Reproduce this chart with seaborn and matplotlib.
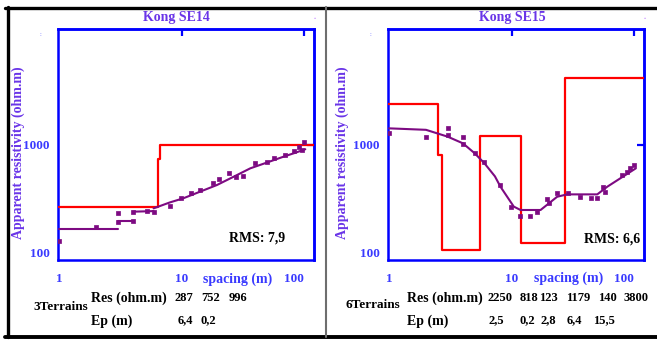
import numpy as np
import pandas as pd
import matplotlib
matplotlib.use("Agg")
import matplotlib.pyplot as plt
from matplotlib.lines import Line2D
from matplotlib.ticker import FixedLocator, NullLocator, NullFormatter
import seaborn as sns

W, H = 657, 340

# ---- Kong SE14 (left) ----
se14_res = [287, 752, 996]
se14_ep = [6.4, 0.2]
se14_rms = "7,9"
se14_obs_x = [1.0, 2.0, 3.0, 3.0, 4.0, 4.0, 5.2, 5.9, 8.05, 9.85, 11.9, 14.1, 17.9, 20.0,
              24.2, 27.8, 31.8, 39.8, 49.6, 56.1, 70, 82, 89.8, 95, 99.7]
se14_obs_y = [146, 194, 257, 212, 219, 260, 267, 262, 293, 342, 378, 404, 461, 500,
              563, 526, 534, 687, 710, 760, 810, 886, 957, 894, 1060]
se14_fit_seg = [1, 1, 2, 2, 3, 3, 4, 4, 4, 4, 4, 4, 4, 4, 4, 4, 4]
se14_fit_x = [1.0, 3.05, 3.0, 4.05, 4.0, 5.9, 5.9, 8.0, 10.3, 14, 19.4, 27, 36.3, 50, 67.6, 85, 101.9]
se14_fit_y = [184, 184, 219, 219, 262, 265, 280, 315, 342, 389, 446, 531, 622, 700, 784, 850, 910]

# ---- Kong SE15 (right) ----
se15_res = [2250, 818, 123, 1179, 140, 3800]
se15_ep = [2.5, 0.2, 2.8, 6.4, 15.5]
se15_rms = "6,6"
se15_obs_x = [1.0, 2.0, 3.0, 3.0, 4.0, 4.0, 5.0, 5.9, 8.0, 9.9, 11.8, 14.0, 16.1, 19.5, 20.0,
              23.5, 28.7, 36.4, 44, 49.9, 55.7, 58.2, 79.8, 88, 92.7, 100.3]
se15_obs_y = [1250, 1170, 1380, 1205, 1150, 1010, 838, 710, 446, 290, 242, 240, 262, 335, 310,
              378, 383, 353, 342, 342, 431, 390, 545, 582, 623, 664]
se15_fit_x = [1, 2, 3, 4, 5, 6, 7.3, 8.1, 10.4, 11.8, 17.2, 23.5, 28.3, 49.9, 60.2, 77, 103]
se15_fit_y = [1380, 1340, 1170, 1024, 838, 687, 530, 431, 290, 271, 271, 353, 370, 370, 431, 510, 622]

XLIM = (0.98, 120)
YLIM = (100, 10000)

BLUE = "#0000ff"
TXT_BLUE = "#3a3aff"
TITLE_C = "#6a35e8"
RED = "#ff0000"
PURPLE = "#7d0a82"

sns.set_style("white")
plt.rcParams["font.family"] = ["Liberation Serif", "DejaVu Serif"]
plt.rcParams["font.weight"] = "bold"

fig = plt.figure(figsize=(W / 100, H / 100), dpi=100)


def px(x, y):
    return x / W, 1 - y / H


def model_steps(res, ep):
    depths = np.cumsum(ep)
    xs = [XLIM[0]] + list(depths) + [XLIM[1]]
    ys = list(res) + [res[-1]]
    return pd.DataFrame({"x": xs, "y": ys})


def draw_panel(left_px, res, ep, obs_x, obs_y, fit_x, fit_y, fit_seg):
    ax = fig.add_axes([left_px / W, 1 - 260 / H, 256 / W, 231 / H])
    ax.set_xscale("log")
    ax.set_yscale("log")

    steps = model_steps(res, ep)
    ax.step(steps["x"], steps["y"], where="post", color=RED, lw=1.6, zorder=3)

    fit = pd.DataFrame({"x": fit_x, "y": fit_y, "seg": fit_seg})
    sns.lineplot(data=fit, x="x", y="y", units="seg", estimator=None, sort=False,
                 color=PURPLE, lw=1.5, ax=ax, zorder=4)
    obs = pd.DataFrame({"x": obs_x, "y": obs_y})
    sns.scatterplot(data=obs, x="x", y="y", marker="s", s=11, color=PURPLE,
                    edgecolor=PURPLE, linewidth=0.5, ax=ax, zorder=5)

    ax.set_xlim(*XLIM)
    ax.set_ylim(*YLIM)
    ax.set_xlabel("")
    ax.set_ylabel("")

    for s in ax.spines.values():
        s.set_color(BLUE)
        s.set_linewidth(1.8)

    ax.xaxis.set_major_locator(FixedLocator([1, 10, 100]))
    ax.set_xticklabels(["1", "10", "100"])
    ax.xaxis.set_minor_locator(FixedLocator([v * d for d in (1, 10) for v in range(2, 10)]))
    ax.xaxis.set_minor_formatter(NullFormatter())
    ax.yaxis.set_major_locator(FixedLocator([100, 1000]))
    ax.set_yticklabels(["100", "1000"])
    ax.yaxis.set_minor_locator(FixedLocator([v * d for d in (100, 1000) for v in range(2, 10)]))
    ax.yaxis.set_minor_formatter(NullFormatter())

    ax.tick_params(which="major", direction="out", length=5, width=1.6, color=BLUE,
                   labelcolor=TXT_BLUE, labelsize=9.5)
    ax.tick_params(which="minor", direction="out", length=3, width=1.4, color=BLUE)
    ax.tick_params(axis="x", which="major", pad=4)
    ax.tick_params(axis="y", which="major", pad=1)
    for lab in ax.get_xticklabels() + ax.get_yticklabels():
        lab.set_fontweight("bold")
    # the lowest y label sits a little above its tick in the reference
    ax.get_yticklabels()[0].set_va("bottom")
    ax.get_xticklabels()[2].set_ha("right")

    top = ax.secondary_xaxis("top")
    top.xaxis.set_major_locator(FixedLocator([10, 100]))
    top.xaxis.set_minor_locator(NullLocator())
    top.tick_params(direction="in", length=5, width=1.6, color=BLUE, labeltop=False)
    top.spines["top"].set_color(BLUE)
    top.spines["top"].set_linewidth(1.8)

    right = ax.secondary_yaxis("right")
    right.yaxis.set_major_locator(FixedLocator([1000]))
    right.yaxis.set_minor_locator(NullLocator())
    right.tick_params(direction="in", length=5, width=1.6, color=BLUE, labelright=False)
    right.spines["right"].set_color(BLUE)
    right.spines["right"].set_linewidth(1.8)
    return ax


draw_panel(58, se14_res, se14_ep, se14_obs_x, se14_obs_y,
           se14_fit_x, se14_fit_y, se14_fit_seg)
draw_panel(388, se15_res, se15_ep, se15_obs_x, se15_obs_y,
           se15_fit_x, se15_fit_y, [1] * len(se15_fit_x))


def fmt(v):
    return str(v).replace(".", ",")


def panel_text(pos, title, rms, res, ep, res_cx, ep_cx):
    fs = 10
    nfs = 9
    fig.text(*px(*pos["title"]), title, ha="center", va="center", fontsize=fs,
             color=TITLE_C, fontweight="bold")
    fig.text(*px(*pos["ylabel"]), "Apparent resistivity (ohm.m)", rotation=90,
             ha="center", va="center", fontsize=fs, color=TITLE_C, fontweight="bold")
    fig.text(*px(*pos["spacing"]), "spacing (m)", ha="left", va="center", fontsize=fs,
             color=TXT_BLUE, fontweight="bold")
    fig.text(*px(*pos["rms"]), "RMS: " + rms, ha="left", va="center", fontsize=fs,
             color="black", fontweight="bold")
    fig.text(*px(*pos["terrains"]), f"{len(res)}Terrains",
             ha="left", va="center", fontsize=9.5, color="black", fontweight="bold")
    fig.text(*px(*pos["res"]), "Res (ohm.m)", ha="left", va="center", fontsize=fs,
             color="black", fontweight="bold")
    fig.text(*px(*pos["ep"]), "Ep (m)", ha="left", va="center", fontsize=fs,
             color="black", fontweight="bold")
    for v, cx in zip(res, res_cx):
        fig.text(*px(cx, pos["res"][1]), fmt(v), ha="center", va="center", fontsize=nfs,
                 color="black", fontweight="bold")
    for v, cx in zip(ep, ep_cx):
        fig.text(*px(cx, pos["ep"][1] - 1), fmt(v), ha="center", va="center", fontsize=nfs,
                 color="black", fontweight="bold")


panel_text({"title": (176, 18), "ylabel": (18, 153), "spacing": (203, 279),
            "rms": (229, 238), "terrains": (33, 307), "res": (91, 298), "ep": (91, 321)},
           "Kong SE14", se14_rms, se14_res, se14_ep,
           [184, 211, 238], [185, 208])
panel_text({"title": (512, 17), "ylabel": (342, 153), "spacing": (534, 278),
            "rms": (584, 239), "terrains": (346, 305), "res": (407, 298), "ep": (407, 321)},
           "Kong SE15", se15_rms, se15_res, se15_ep,
           [499.5, 529, 548.5, 578, 607, 636.5], [496.5, 527.5, 548.5, 574.5, 604])

# small faint marks near the top corners
fig.text(*px(40, 35), ":", fontsize=4, color="#9090ff", ha="center", va="center")
fig.text(*px(315, 17), ".", fontsize=6, color="#c080ff", ha="center", va="center")
fig.text(*px(370, 35), ":", fontsize=4, color="#9090ff", ha="center", va="center")
fig.text(*px(645, 17), ".", fontsize=6, color="#c080ff", ha="center", va="center")

# panel frame
fig.add_artist(Line2D([5 / W, 1], [1 - 7.5 / H] * 2, color="black", lw=2.4))
fig.add_artist(Line2D([5 / W, 1], [1 - 337 / H] * 2, color="black", lw=2.8))
fig.add_artist(Line2D([7.5 / W] * 2, [1 - 7 / H, 1 - 337 / H], color="black", lw=2.4))
fig.add_artist(Line2D([326 / W] * 2, [1 - 7 / H, 1 - 337 / H], color="#6e6e6e", lw=1.5))

fig.savefig("out.png", dpi=100)
